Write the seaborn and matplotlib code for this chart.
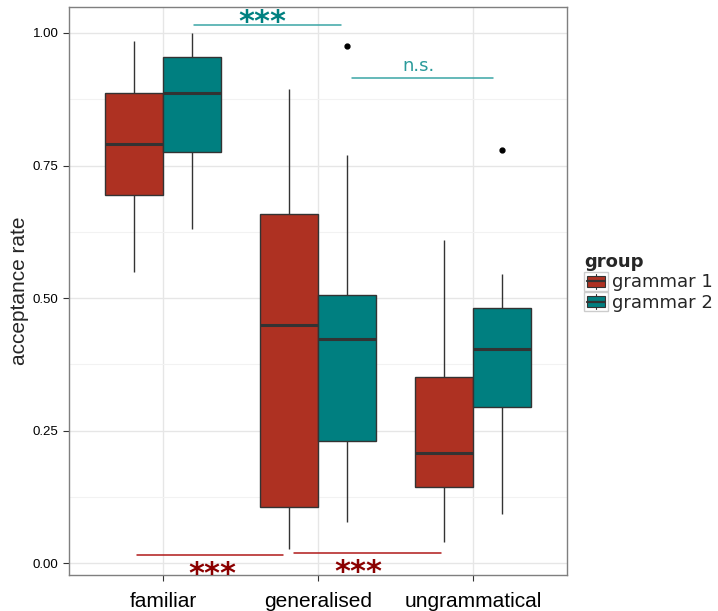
import numpy as np
import pandas as pd
import matplotlib
matplotlib.use("Agg")
import matplotlib.pyplot as plt
import seaborn as sns
from matplotlib.ticker import MultipleLocator
from matplotlib.patches import Patch, Rectangle
from matplotlib.lines import Line2D
from matplotlib.legend_handler import HandlerBase

# box summaries (whisker low, Q1, median, Q3, whisker high)
conditions = ["familiar", "generalised", "ungrammatical"]
groups = ["grammar 1", "grammar 2"]
whisk_low = {"grammar 1": [0.549, 0.026, 0.040], "grammar 2": [0.630, 0.077, 0.092]}
q1 = {"grammar 1": [0.694, 0.106, 0.143], "grammar 2": [0.775, 0.230, 0.295]}
median = {"grammar 1": [0.791, 0.449, 0.208], "grammar 2": [0.887, 0.423, 0.403]}
q3 = {"grammar 1": [0.887, 0.658, 0.351], "grammar 2": [0.955, 0.506, 0.481]}
whisk_high = {"grammar 1": [0.985, 0.894, 0.610], "grammar 2": [1.000, 0.770, 0.545]}
outliers = {"grammar 1": [None, None, None], "grammar 2": [None, 0.975, 0.779]}

# significance brackets
sig_x0 = [0.20, 1.22, -0.17, 0.845]
sig_x1 = [1.15, 2.13, 0.775, 1.795]
sig_y = [1.015, 0.915, 0.016, 0.019]
sig_label = ["***", "n.s.", "***", "***"]
sig_label_x = [0.642, 1.645, 0.32, 1.26]
sig_label_y = [1.004, 0.928, -0.038, -0.033]

palette = {"grammar 1": "#AE3122", "grammar 2": "#007F80"}
line_cols = ["#3AA5A5", "#3AA5A5", "#B01A1A", "#B01A1A"]
text_cols = ["#008080", "#2A9A9A", "#8B0000", "#8B0000"]

# rebuild points so that the quartiles come out as read
rows = []
for g in groups:
    for i, c in enumerate(conditions):
        top = outliers[g][i] if outliers[g][i] is not None else whisk_high[g][i]
        pts = [whisk_low[g][i], whisk_low[g][i], q1[g][i], q1[g][i], median[g][i],
               q3[g][i], q3[g][i], whisk_high[g][i], top]
        for v in pts:
            rows.append({"condition": c, "group": g, "rate": v})
df = pd.DataFrame(rows)


class BoxKey(HandlerBase):
    """ggplot-like boxplot legend key"""
    def create_artists(self, legend, orig_handle, xdescent, ydescent, width, height,
                       fontsize, trans):
        x0, y0 = -xdescent, -ydescent
        bg = Rectangle((x0, y0), width, height, facecolor="white", edgecolor="#CCCCCC",
                       lw=1.0, transform=trans)
        whisk = Line2D([x0 + width / 2] * 2, [y0 + height * 0.08, y0 + height * 0.92],
                       color="#333333", lw=0.8, transform=trans)
        box = Rectangle((x0 + width * 0.12, y0 + height * 0.22), width * 0.76, height * 0.56,
                        facecolor=orig_handle.get_facecolor(), edgecolor="#333333",
                        lw=0.8, transform=trans)
        med = Line2D([x0 + width * 0.12, x0 + width * 0.88], [y0 + height / 2] * 2,
                     color="#333333", lw=1.6, transform=trans)
        return [bg, whisk, box, med]


sns.set_style("white")
plt.rcParams["font.family"] = ["Liberation Sans", "DejaVu Sans"]

fig = plt.figure(figsize=(7.18, 6.11), dpi=100)
ax = fig.add_axes([0.0961, 0.0589, 0.6936, 0.9296])

sns.boxplot(data=df, x="condition", y="rate", hue="group", order=conditions,
            hue_order=groups, palette=palette, width=0.75, gap=0, saturation=1,
            linecolor="#333333", linewidth=1.0, showcaps=False,
            medianprops=dict(linewidth=2.2, color="#333333"),
            whiskerprops=dict(linewidth=1.0, color="#333333"),
            flierprops=dict(marker="o", markerfacecolor="black", markeredgecolor="black",
                            markersize=3.5),
            legend=False, ax=ax)

for i in range(len(sig_x0)):
    ax.plot([sig_x0[i], sig_x1[i]], [sig_y[i], sig_y[i]], color=line_cols[i], lw=1.1,
            zorder=5)
    if sig_label[i] == "***":
        ax.text(sig_label_x[i], sig_label_y[i], sig_label[i], color=text_cols[i],
                fontsize=22, fontweight="bold", ha="center", va="baseline", zorder=6,
                family="DejaVu Sans")
    else:
        ax.text(sig_label_x[i], sig_label_y[i], sig_label[i], color=text_cols[i],
                fontsize=13, ha="center", va="baseline", zorder=6,
                family="DejaVu Sans")

ax.set_xlim(-0.606, 2.606)
ax.set_ylim(-0.0226, 1.049)
ax.yaxis.set_major_locator(MultipleLocator(0.25))
ax.yaxis.set_minor_locator(MultipleLocator(0.125))
ax.set_yticklabels(["%.2f" % t for t in ax.get_yticks()])
ax.set_axisbelow(True)
ax.grid(True, which="major", color="#E6E6E6", lw=1.0)
ax.grid(True, which="minor", axis="y", color="#F2F2F2", lw=0.8)
for s in ax.spines.values():
    s.set_color("#7F7F7F")
    s.set_linewidth(1.0)
ax.tick_params(axis="y", which="major", length=4, color="#333333", labelsize=9.5,
               labelcolor="black", left=True)
ax.tick_params(axis="y", which="minor", length=0)
ax.tick_params(axis="x", length=4, color="#333333", labelsize=15, pad=8,
               labelcolor="black", bottom=True)
ax.set_xlabel("")
ax.set_ylabel("acceptance rate", fontsize=15, labelpad=3)

handles = [Patch(facecolor=palette[g]) for g in groups]
leg = ax.legend(handles, groups, title="group", loc="center left",
                bbox_to_anchor=(1.02, 0.515), frameon=False,
                handlelength=1.3, handleheight=1.2, handletextpad=0.25,
                labelspacing=0.05, borderaxespad=0, handler_map={Patch: BoxKey()},
                prop={"family": "DejaVu Sans", "size": 13})
leg.get_title().set_fontweight("bold")
leg.get_title().set_fontsize(13)
leg.get_title().set_family("DejaVu Sans")
leg._legend_box.align = "left"

fig.savefig("out.png", dpi=100)
